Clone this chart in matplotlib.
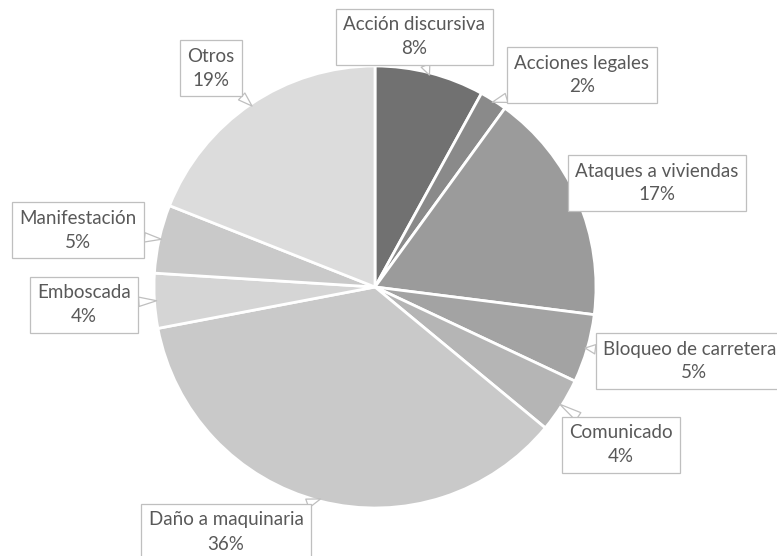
import numpy as np
import matplotlib.pyplot as plt

categorias = ['Acción discursiva', 'Acciones legales', 'Ataques a viviendas',
              'Bloqueo de carreteras', 'Comunicado', 'Daño a maquinaria',
              'Emboscada', 'Manifestación', 'Otros']
porcentajes = [8, 2, 17, 5, 4, 36, 4, 5, 19]
colores = ['#717171', '#8a8a8a', '#9b9b9b', '#a3a3a3', '#b5b5b5',
           '#c9c9c9', '#d5d5d5', '#c9c9c9', '#dcdcdc']
# centro de cada caja de etiqueta (pixeles de imagen, origen arriba-izquierda)
pos_etiquetas = [(414, 37), (582, 75), (657, 183), (694, 361), (621, 445),
                 (226, 532), (84, 305), (78, 230), (211, 68)]

W, H = 777, 556
plt.rcParams['font.family'] = ['Lato', 'DejaVu Sans']

fig = plt.figure(figsize=(W / 100, H / 100), dpi=100)
cx, cy, r = 375, 287, 221
ax = fig.add_axes([(cx - r) / W, (H - cy - r) / H, 2 * r / W, 2 * r / H])

wedges, _ = ax.pie(porcentajes, colors=colores, startangle=90, counterclock=False,
                   wedgeprops=dict(edgecolor='white', linewidth=2))
ax.set_xlim(-1, 1)
ax.set_ylim(-1, 1)
ax.set_aspect('equal')
ax.axis('off')

for w, nombre, p, (tx, ty) in zip(wedges, categorias, porcentajes, pos_etiquetas):
    ang = np.deg2rad((w.theta1 + w.theta2) / 2)
    xy = (0.99 * np.cos(ang), 0.99 * np.sin(ang))
    ax.annotate('{}\n{}%'.format(nombre, p), xy=xy, xycoords='data',
                xytext=(tx, H - ty), textcoords='figure pixels',
                ha='center', va='center', fontsize=13.5, color='#595959',
                linespacing=1.5, annotation_clip=False,
                bbox=dict(boxstyle='square,pad=0.4', fc='white', ec='#bfbfbf', lw=0.9),
                arrowprops=dict(arrowstyle='wedge,tail_width=0.5', fc='white',
                                ec='#bfbfbf', lw=0.9, shrinkA=0, shrinkB=0))

fig.savefig('out.png', dpi=100)
